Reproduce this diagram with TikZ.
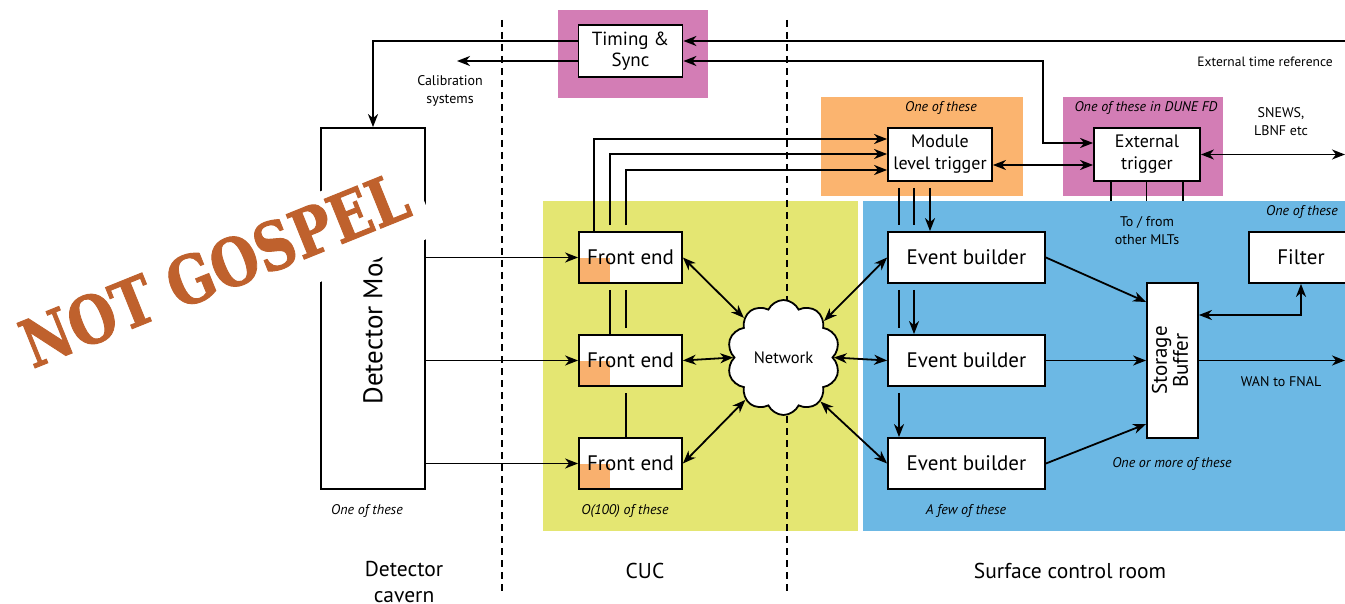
\documentclass[tikz,border=0pt]{standalone}
\usepackage{fontspec}
\setmainfont{PT Sans}
\newfontfamily\stampfont{DejaVu Serif}[BoldFeatures={FakeBold=1.5}]
\usetikzlibrary{arrows.meta,shapes.symbols,calc}

\definecolor{timpink}{HTML}{D37DB5}
\definecolor{mltorange}{HTML}{FBB46F}
\definecolor{cucyellow}{HTML}{E4E672}
\definecolor{surfblue}{HTML}{6CB8E4}
\definecolor{feorange}{HTML}{F9B06E}
\definecolor{stampred}{HTML}{BF612D}

\tikzset{
  tip/.tip={Stealth[length=13pt,width=10pt,inset=4pt]},
  bg/.style={inner sep=0pt, outer sep=0pt, draw=none},
  box/.style={draw, line width=1.8pt, fill=white, inner sep=0pt, align=center,
    font=\fontsize{21}{24}\selectfont},
  conn/.style={line width=1.8pt},
  arr/.style={conn, -tip},
  darr/.style={conn, tip-tip},
  note/.style={align=center, font=\fontsize{14}{18}\selectfont},
  itnote/.style={font=\itshape\fontsize{14}{16}\selectfont},
  zone/.style={align=center, font=\fontsize{21.5}{26}\selectfont},
  divider/.style={line width=1.8pt, dash pattern=on 7pt off 5pt},
  frontend/.style={box, minimum width=103, minimum height=51,
    path picture={\fill[feorange] (path picture bounding box.south west)
      rectangle ++(31pt,25pt);}},
  builder/.style={box, minimum width=157, minimum height=51},
}

\begin{document}
\begin{tikzpicture}[x=1pt,y=-1pt]
\useasboundingbox (0,0) rectangle (1345,604);

% shaded areas
\node[bg, fill=timpink,   minimum width=150, minimum height=88, anchor=north west] (timbg)  at (558,10)  {};
\node[bg, fill=mltorange, minimum width=202, minimum height=99, anchor=north west] (mltbg)  at (821,97)  {};
\node[bg, fill=timpink,   minimum width=160, minimum height=99, anchor=north west] (extbg)  at (1063,97) {};
\node[bg, fill=cucyellow, minimum width=315, minimum height=330, anchor=north west] (cucbg) at (543,201) {};
\node[bg, fill=surfblue,  minimum width=482, minimum height=330, anchor=north west] (surfbg) at (863,201) {};

% location dividers
\draw[divider] (502,20) -- (502,595);
\draw[divider] (787,20) -- (787,595);

% boxes
\node[box, font=\fontsize{19}{21}\selectfont, minimum width=104, minimum height=52] (tim) at (630.5,51) {Timing \&\\Sync};
\node[box, font=\fontsize{18}{22}\selectfont, minimum width=104, minimum height=53] (mlt) at (940,154.5) {Module\\level trigger};
\node[box, font=\fontsize{18}{22}\selectfont, minimum width=106, minimum height=53] (ext) at (1147,154.5) {External\\trigger};
\node[box, font=\fontsize{27}{30}\selectfont, minimum width=104, minimum height=361] (det) at (373,308.5) {\rotatebox{90}{Detector Module}};

\node[frontend] (fe1) at (630.5,257.5) {Front end};
\node[frontend] (fe2) at (630.5,360.5) {Front end};
\node[frontend] (fe3) at (630.5,463.5) {Front end};

\node[builder] (eb1) at (966.5,257.5) {Event builder};
\node[builder] (eb2) at (966.5,360.5) {Event builder};
\node[builder] (eb3) at (966.5,463.5) {Event builder};

\node[box, minimum width=51, minimum height=155] (sb) at (1172.5,360.5)
  {\rotatebox{90}{\begin{tabular}{@{}c@{}}Storage\\[-3pt]Buffer\end{tabular}}};
\node[box, minimum width=104, minimum height=51] (filter) at (1301,257.5) {Filter};

\node[cloud, cloud puffs=10, cloud puff arc=130, aspect=1, shape border rotate=12,
  draw, fill=white, line width=1.8pt, minimum width=113, minimum height=115, inner sep=0pt,
  font=\fontsize{16.5}{18}\selectfont] (net) at (783.5,357.5) {Network};

% free ends and routing columns
\coordinate (calib)  at (457,61);
\coordinate (extref) at (1345,41);
\coordinate (tsy)    at (0,41);
\coordinate (tcorner) at (1043,61);
\coordinate (ety)    at (0,143);
\coordinate (mety)   at (0,165);
\coordinate (snews)  at (1345,154.5);
\coordinate (wan)    at (1345,360.5);
\coordinate (sy1)    at (0,302);
\coordinate (sy3)    at (0,424);
\coordinate (fy)     at (0,315);
\coordinate (fx1) at (594,0);  \coordinate (fx2) at (610,0);  \coordinate (fx3) at (626,0);
\coordinate (my1) at (0,139);  \coordinate (my2) at (0,154);  \coordinate (my3) at (0,170);
\coordinate (ex1) at (930,0);  \coordinate (ex2) at (914,0);  \coordinate (ex3) at (899,0);
\coordinate (tx1) at (1111,0); \coordinate (tx2) at (1146.5,0); \coordinate (tx3) at (1183,0);

% timing distribution
\draw[arr] (tim.west |- tsy) -| (det.north);
\draw[arr] (tim.west |- calib) -- (calib);
\draw[arr] (extref) -- (tim.east |- extref);
\draw[darr] (tim.east |- tcorner) -- (tcorner) |- (ext.west |- ety);
\draw[darr] (mlt.east |- mety) -- (ext.west |- mety);
\draw[darr] (ext.east) -- (snews);
\foreach \t in {tx1,tx2,tx3} \draw[conn] (ext.south -| \t) -- (surfbg.north -| \t);

% detector to front ends
\draw[arr] (det.east |- fe1.west) -- (fe1.west);
\draw[arr] (det.east |- fe2.west) -- (fe2.west);
\draw[arr] (det.east |- fe3.west) -- (fe3.west);

% front ends to module level trigger
\draw[arr] (fe1.north -| fx1) |- (mlt.west |- my1);
\draw[conn] (fe2.north -| fx2) -- ($(fe1.south -| fx2)+(0,6)$);
\draw[arr] ($(fe1.north -| fx2)+(0,-6)$) |- (mlt.west |- my2);
\draw[conn] (fe3.north -| fx3) -- ($(fe2.south -| fx3)+(0,6)$);
\draw[conn] ($(fe2.north -| fx3)+(0,-6)$) -- ($(fe1.south -| fx3)+(0,6)$);
\draw[arr] ($(fe1.north -| fx3)+(0,-6)$) |- (mlt.west |- my3);

% module level trigger to event builders
\draw[arr] ($(mlt.south -| ex1)+(0,6)$) -- (eb1.north -| ex1);
\draw[conn] ($(mlt.south -| ex2)+(0,6)$) -- ($(eb1.north -| ex2)+(0,-6)$);
\draw[arr] ($(eb1.south -| ex2)+(0,6)$) -- (eb2.north -| ex2);
\draw[conn] ($(mlt.south -| ex3)+(0,6)$) -- ($(eb1.north -| ex3)+(0,-6)$);
\draw[conn] ($(eb1.south -| ex3)+(0,6)$) -- ($(eb2.north -| ex3)+(0,-6)$);
\draw[arr] ($(eb2.south -| ex3)+(0,6)$) -- (eb3.north -| ex3);

% network fabric
\draw[darr] (fe1.east) -- (net.135);
\draw[darr] (fe2.east) -- (net.west);
\draw[darr] (fe3.east) -- (net.228);
\draw[darr] (net.42) -- (eb1.west);
\draw[darr] (net.east) -- (eb2.west);
\draw[darr] (net.-50) -- (eb3.west);

% event builders to storage, filter and WAN
\draw[arr] (eb1.east) -- (sb.west |- sy1);
\draw[arr] (eb2.east) -- (sb.west);
\draw[arr] (eb3.east) -- (sb.west |- sy3);
\draw[darr] (sb.east |- fy) -| (filter.south);
\draw[arr] (sb.east) -- (wan);

% annotations
\node[note] at (450,91) {Calibration\\systems};
\node[note, font=\fontsize{13.5}{16}\selectfont] at (1265,62) {External time reference};
\node[note] at (1281,122) {SNEWS,\\LBNF etc};
\node[note] at (1147,231) {To / from\\other MLTs};
\node[note] at (1281,382) {WAN to FNAL};

\node[itnote] at (941,108)  {One of these};
\node[itnote] at (1146,108) {One of these in DUNE FD};
\node[itnote] at (1302,212) {One of these};
\node[itnote] at (1172,464) {One or more of these};
\node[itnote] at (966,511)  {A few of these};
\node[itnote] at (625,511)  {O(100) of these};
\node[itnote] at (367,511)  {One of these};

\node[zone] at (404,582) {Detector\\cavern};
\node[zone] at (645,571) {CUC};
\node[zone] at (1070,571) {Surface control room};

% rubber stamp
\begin{scope}[shift={(33,370)}, rotate=22]
  \fill[white] (-25,-58) rectangle (426,26);
  \node[anchor=south west, inner sep=0pt, transform shape, text=stampred] (stamp) at (0,0)
    {\resizebox{411pt}{49pt}{\stampfont\bfseries NOT GOSPEL}};
\end{scope}
\end{tikzpicture}
\end{document}
